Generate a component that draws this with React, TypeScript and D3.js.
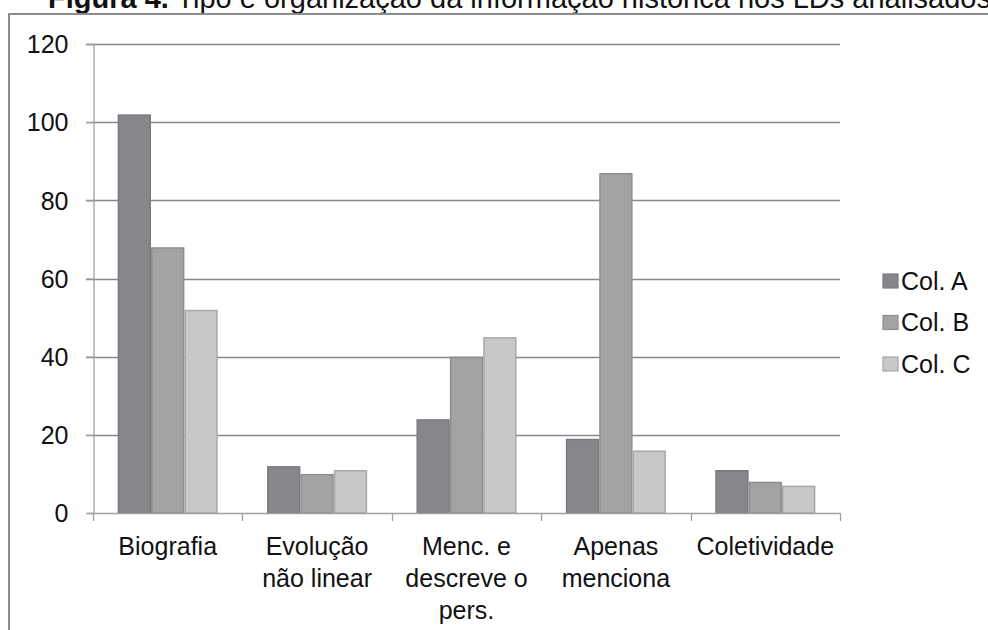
import React, { useEffect, useRef } from "react";
import * as d3 from "d3";

const categories = [
  ["Biografia"],
  ["Evolução", "não linear"],
  ["Menc. e", "descreve o", "pers."],
  ["Apenas", "menciona"],
  ["Coletividade"],
];
const seriesNames = ["Col. A", "Col. B", "Col. C"];
const colA = [102, 12, 24, 19, 11];
const colB = [68, 10, 40, 87, 8];
const colC = [52, 11, 45, 16, 7];
const yTicks = [0, 20, 40, 60, 80, 100, 120];

const fills = ["#87878b", "#a3a3a3", "#c8c8c8"];
const strokes = ["#7b7b7f", "#8e8e8e", "#a8a8a8"];

const W = 988;
const H = 630;
const FONT = "'Liberation Sans', Arial, sans-serif";

export default function App() {
  const ref = useRef<SVGSVGElement | null>(null);

  useEffect(() => {
    const svg = d3.select(ref.current);
    svg.selectAll("*").remove();

    // title line (partly above the visible area)
    const title = svg
      .append("text")
      .attr("x", 48)
      .attr("y", 8)
      .attr("font-family", FONT)
      .attr("font-size", 29)
      .attr("fill", "#111");
    title.append("tspan").attr("font-weight", "bold").text("Figura 4.");
    title.append("tspan").text(" Tipo e organização da informação histórica nos LDs analisados");

    // outer frame
    svg
      .append("rect")
      .attr("x", 9)
      .attr("y", 14)
      .attr("width", W + 20)
      .attr("height", H + 20)
      .attr("fill", "none")
      .attr("stroke", "#8c8c8c")
      .attr("stroke-width", 2);

    const left = 93;
    const right = 840;
    const top = 44;
    const bottom = 513;

    const x = d3
      .scaleBand<number>()
      .domain(categories.map((_, i) => i))
      .range([left, right]);
    const y = d3.scaleLinear().domain([0, 120]).range([bottom, top]);
    const inner = d3
      .scaleBand<number>()
      .domain([0, 1, 2])
      .range([0, x.bandwidth() * 0.67]);
    const groupOffset = (x.bandwidth() - x.bandwidth() * 0.67) / 2;

    // gridlines
    const grid = svg.append("g");
    yTicks.forEach((t) => {
      if (t === 0) return;
      grid
        .append("line")
        .attr("x1", left - 7)
        .attr("x2", right)
        .attr("y1", Math.round(y(t)) + 0.5)
        .attr("y2", Math.round(y(t)) + 0.5)
        .attr("stroke", "#888888")
        .attr("stroke-width", 1.3);
    });

    // y axis
    const yAxis = svg
      .append("g")
      .attr("transform", `translate(${left + 0.5},0)`)
      .call(
        d3
          .axisLeft(y)
          .tickValues(yTicks)
          .tickSize(7)
          .tickPadding(18)
          .tickFormat((d) => String(d))
      );
    yAxis.select(".domain").attr("stroke", "#a0a0a0").attr("stroke-width", 1.3);
    yAxis.selectAll(".tick line").attr("stroke", "#a0a0a0").attr("stroke-width", 1.3);
    yAxis
      .selectAll(".tick text")
      .attr("font-family", FONT)
      .attr("font-size", 25)
      .attr("dy", "0.35em")
      .attr("fill", "#111");

    // bars
    const series = [colA, colB, colC];
    series.forEach((vals, s) => {
      svg
        .append("g")
        .selectAll("rect")
        .data(vals)
        .join("rect")
        .attr("x", (_, i) => (x(i) as number) + groupOffset + (inner(s) as number) + 0.75)
        .attr("y", (d) => y(d) + 0.75)
        .attr("width", inner.bandwidth() - 1.5)
        .attr("height", (d) => bottom - y(d) - 0.75)
        .attr("fill", fills[s])
        .attr("stroke", strokes[s])
        .attr("stroke-width", 1.5);
    });

    // x axis
    const xAxisG = svg.append("g");
    xAxisG
      .append("line")
      .attr("x1", left)
      .attr("x2", right)
      .attr("y1", bottom + 0.5)
      .attr("y2", bottom + 0.5)
      .attr("stroke", "#a0a0a0")
      .attr("stroke-width", 1.3);
    const edges = categories.map((_, i) => x(i) as number).concat([right]);
    edges.forEach((e) => {
      xAxisG
        .append("line")
        .attr("x1", Math.round(e) + 0.5)
        .attr("x2", Math.round(e) + 0.5)
        .attr("y1", bottom)
        .attr("y2", bottom + 8)
        .attr("stroke", "#a0a0a0")
        .attr("stroke-width", 1.3);
    });
    categories.forEach((lines, i) => {
      const cx = (x(i) as number) + x.bandwidth() / 2;
      const t = xAxisG
        .append("text")
        .attr("text-anchor", "middle")
        .attr("font-family", FONT)
        .attr("font-size", 25)
        .attr("fill", "#111");
      lines.forEach((ln, k) => {
        t.append("tspan").attr("x", cx).attr("y", 555 + k * 32).text(ln);
      });
    });

    // legend
    const lg = svg.append("g");
    seriesNames.forEach((name, s) => {
      const cy = 281 + s * 41.5;
      lg.append("rect")
        .attr("x", 883)
        .attr("y", cy - 7)
        .attr("width", 15)
        .attr("height", 14)
        .attr("fill", fills[s])
        .attr("stroke", strokes[s])
        .attr("stroke-width", 1.2);
      lg.append("text")
        .attr("x", 901)
        .attr("y", cy + 8.5)
        .attr("font-family", FONT)
        .attr("font-size", 25)
        .attr("fill", "#111")
        .text(name);
    });
  }, []);

  return (
    <svg
      ref={ref}
      width={W}
      height={H}
      style={{ position: "absolute", left: 0, top: 0, background: "#fff", display: "block" }}
    />
  );
}
